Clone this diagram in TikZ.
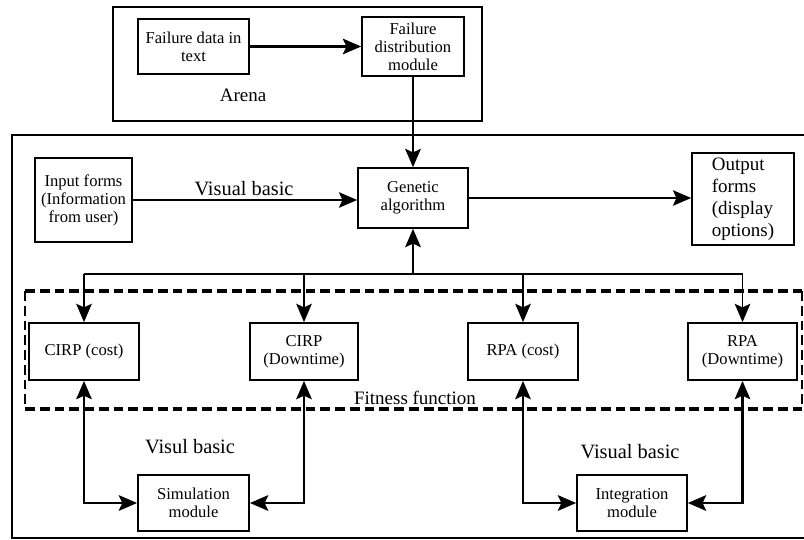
\documentclass[tikz,border=0pt]{standalone}
\usepackage{fontspec}
\setmainfont{Liberation Serif}
\usetikzlibrary{arrows.meta, positioning, calc}

\begin{document}
\begin{tikzpicture}[x=0.025cm, y=-0.025cm,
  block/.style={rectangle, draw, line width=1.1pt, align=center, inner sep=2pt,
    minimum width=2.75cm, minimum height=1.43cm, font=\fontsize{11.8}{12.8}\selectfont},
  tag/.style={font=\fontsize{13.5}{15}\selectfont},
  conn/.style={line width=1.4pt, -{Stealth[length=13pt, width=11pt, inset=2.5pt]}},
  heavy/.style={line width=2pt, -{Stealth[length=13pt, width=11pt, inset=2.5pt]}},
  dblconn/.style={line width=2pt, {Stealth[length=13pt, width=11pt, inset=2.5pt]}-{Stealth[length=13pt, width=11pt, inset=2.5pt]}},
  dashline/.style={dash pattern=on 7pt off 3.5pt}
]
  \useasboundingbox (0,0) rectangle (804,540);

  % frames
  \draw[line width=1.1pt] (113,7) rectangle (482,121);
  \draw[line width=1.1pt] (806,135) -- (12,135) -- (12,538) -- (806,538);
  \draw[dashline, line width=2.2pt] (25,291) -- (802,291) (25,409) -- (802,409);
  \draw[dashline, line width=1pt] (25,291) -- (25,409) (802,291) -- (802,409);

  % Arena part
  \node[block, minimum width=2.78cm, minimum height=1.38cm] (fdata) at (193.5,46.5) {Failure data in\\text};
  \node[block, minimum width=2.55cm, minimum height=1.48cm] (fdist) at (413,46.5) {Failure\\distribution\\module};
  \node[tag] (arena) at (243,95) {Arena};

  % main part
  \node[block, minimum height=1.5cm] (ga) at (413,198) {Genetic\\algorithm};
  \node[block, minimum width=2.43cm, minimum height=2.1cm] (input) at (83.5,200) {Input forms\\(Information\\from user)};
  \node[block, minimum width=2.55cm, minimum height=2.3cm, align=left, font=\fontsize{13.5}{15.6}\selectfont] (output) at (743,199) {Output\\forms\\(display\\options)};
  \node[tag, font=\fontsize{14.5}{16}\selectfont] (vb1) at (244,189) {Visual basic};

  % fitness function
  \node[block] (cc) at (84,351.5) {CIRP (cost)};
  \node[block, minimum width=2.7cm] (cd) at (304,351.5) {CIRP\\(Downtime)};
  \node[block] (rc) at (523,351.5) {RPA (cost)};
  \node[block, minimum width=2.72cm] (rd) at (742.5,351.5) {RPA\\(Downtime)};
  \node[tag] (fit) at (415,398) {Fitness function};

  % bottom modules
  \node[block, minimum width=2.78cm, minimum height=1.4cm] (sim) at (193.5,503) {Simulation\\module};
  \node[block, minimum height=1.4cm] (integ) at (632,503) {Integration\\module};
  \node[tag, font=\fontsize{14.5}{16}\selectfont] (vb2) at (190,447) {Visul basic};
  \node[tag, font=\fontsize{14.5}{16}\selectfont] (vb3) at (630,452) {Visual basic};

  % connectors
  \draw[heavy] (fdata) -- (fdist);
  \draw[heavy] (fdist) -- (ga);
  \draw[conn] (input.east) -- (input.east -| ga.west);
  \draw[conn] (ga.east) -- (ga.east -| output.west);

  \coordinate (bus) at (413,274);
  \draw[line width=1.4pt] (cc.north |- bus) -- (rd.north |- bus);
  \draw[heavy] (bus) -- (ga.south);
  \foreach \n in {cc, cd, rc, rd}
    \draw[conn] (\n.north |- bus) -- (\n.north);

  \draw[dblconn] (cc.south) |- (sim.west);
  \draw[dblconn] (cd.south) |- (sim.east);
  \draw[dblconn] (rc.south) |- (integ.west);
  \draw[dblconn] (rd.south) |- (integ.east);
\end{tikzpicture}
\end{document}
